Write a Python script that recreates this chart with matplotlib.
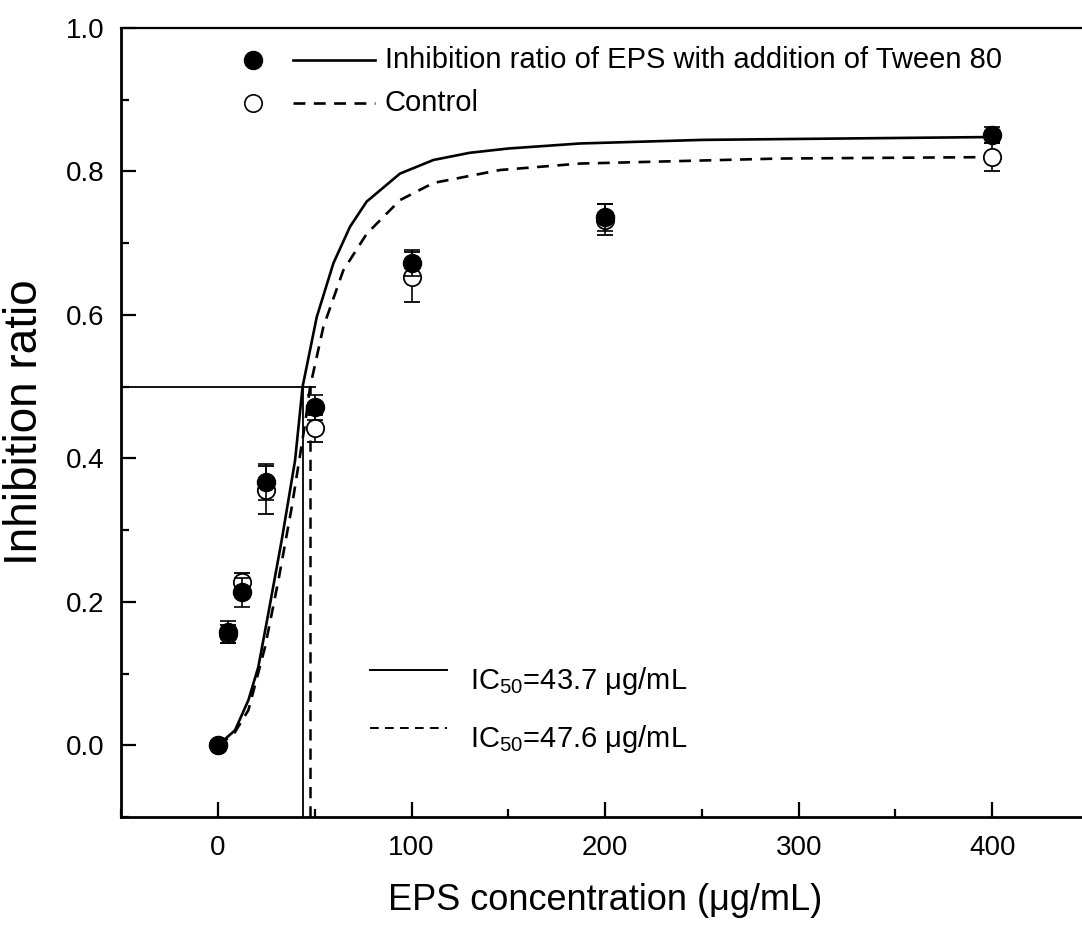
import matplotlib
matplotlib.use("Agg")
import matplotlib.pyplot as plt
from matplotlib.ticker import MultipleLocator

plt.rcParams["font.family"] = ["Liberation Sans", "DejaVu Sans"]
plt.rcParams["mathtext.fontset"] = "custom"
plt.rcParams["mathtext.rm"] = "Liberation Sans"
plt.rcParams["mathtext.it"] = "Liberation Sans:italic"

conc = [0, 5, 12.5, 25, 50, 100, 200, 400]
tween = [0.0, 0.158, 0.213, 0.367, 0.471, 0.672, 0.736, 0.851]
tween_err = [0.0, 0.015, 0.02, 0.025, 0.017, 0.018, 0.019, 0.011]
control = [0.0, 0.155, 0.227, 0.356, 0.442, 0.653, 0.733, 0.82]
control_err = [0.0, 0.013, 0.013, 0.034, 0.019, 0.035, 0.022, 0.02]

# fitted curves
fit_x_tween = [0, 8.8, 15.7, 20.8, 26, 32.9, 39.8, 43.7, 51, 59.6, 68.2,
               76.8, 94, 111.3, 130, 150, 187, 250, 400]
fit_tween = [0, 0.021, 0.063, 0.109, 0.184, 0.286, 0.397, 0.5, 0.597, 0.672,
             0.723, 0.758, 0.797, 0.816, 0.826, 0.832, 0.839, 0.844, 0.848]
fit_x_control = [0, 8, 15.7, 24.3, 31.2, 38.1, 45, 47.6, 54.4, 64.7, 76.8,
                 94, 111.3, 145.7, 187, 290, 400]
fit_control = [0, 0.015, 0.049, 0.137, 0.23, 0.332, 0.449, 0.5, 0.583, 0.662,
               0.713, 0.76, 0.784, 0.802, 0.811, 0.818, 0.82]

ic50_tween = 43.7
ic50_control = 47.6
half = 0.5

fig = plt.figure(figsize=(10.82, 9.25), dpi=100)
ax = fig.add_axes([121.25 / 1082, 108 / 925, 967.75 / 1082, 789 / 925])

dash = (0, (4.5, 3.2))

# IC50 guide lines
ax.plot([-50, 50], [half, half], color="black", lw=1.3)
ax.plot([ic50_tween, ic50_tween], [-0.1, half], color="black", lw=1.3)
ax.plot([ic50_control, ic50_control], [-0.1, half], color="black", lw=1.8,
        linestyle=dash)

# fitted curves
ax.plot(fit_x_tween, fit_tween, color="black", lw=1.9)
ax.plot(fit_x_control, fit_control, color="black", lw=1.9, linestyle=dash)

# data with error bars
ax.errorbar(conc, control, yerr=control_err, fmt="o", ms=12.5, mfc="white",
            mec="black", mew=1.3, ecolor="black", elinewidth=1.2, capsize=6,
            capthick=1.2, zorder=4)
ax.errorbar(conc, tween, yerr=tween_err, fmt="o", ms=13, mfc="black",
            mec="black", ecolor="black", elinewidth=1.2, capsize=6,
            capthick=1.2, zorder=5)

ax.set_xlim(-50, 450)
ax.set_ylim(-0.1, 1.0)
ax.xaxis.set_major_locator(MultipleLocator(100))
ax.xaxis.set_minor_locator(MultipleLocator(50))
ax.yaxis.set_major_locator(MultipleLocator(0.2))
ax.yaxis.set_minor_locator(MultipleLocator(0.1))
ax.set_yticks([0.0, 0.2, 0.4, 0.6, 0.8, 1.0])
ax.set_yticklabels(["0.0", "0.2", "0.4", "0.6", "0.8", "1.0"])

ax.tick_params(which="major", direction="in", length=11, width=1.6,
               labelsize=20, top=False, right=False)
ax.tick_params(which="minor", direction="in", length=6, width=1.6,
               top=False, right=False)
ax.tick_params(axis="x", which="major", pad=13)
ax.tick_params(axis="y", which="major", pad=12)

for side in ["left", "bottom"]:
    ax.spines[side].set_linewidth(2.0)
ax.spines["top"].set_linewidth(1.6)
ax.spines["right"].set_visible(False)

ax.set_xlabel("EPS concentration (\u03bcg/mL)", fontsize=26, labelpad=16)
ax.set_ylabel("Inhibition ratio", fontsize=33, labelpad=14)

# legend for data series
tr = ax.transAxes
ax.plot([0.136], [0.959], "o", ms=13, mfc="black", mec="black", transform=tr,
        clip_on=False)
ax.plot([0.136], [0.905], "o", ms=12.5, mfc="white", mec="black", mew=1.2,
        transform=tr, clip_on=False)
ax.plot([0.1775, 0.262], [0.959, 0.959], color="black", lw=1.9, transform=tr)
ax.plot([0.1775, 0.262], [0.905, 0.905], color="black", lw=1.9,
        linestyle=dash, transform=tr)
ax.text(0.2725, 0.959, "Inhibition ratio of EPS with addition of Tween 80",
        transform=tr, fontsize=21, va="center", ha="left")
ax.text(0.2725, 0.905, "Control", transform=tr, fontsize=21, va="center",
        ha="left")

# legend for IC50 values
ax.plot([0.257, 0.337], [0.186, 0.186], color="black", lw=1.4, transform=tr)
ax.plot([0.257, 0.337], [0.113, 0.113], color="black", lw=1.4,
        linestyle=dash, transform=tr)
ax.text(0.36, 0.172, "IC$_{50}$=%.1f \u03bcg/mL" % ic50_tween, transform=tr,
        fontsize=21, va="center", ha="left")
ax.text(0.36, 0.099, "IC$_{50}$=%.1f \u03bcg/mL" % ic50_control, transform=tr,
        fontsize=21, va="center", ha="left")

fig.savefig("out.png", dpi=100)
